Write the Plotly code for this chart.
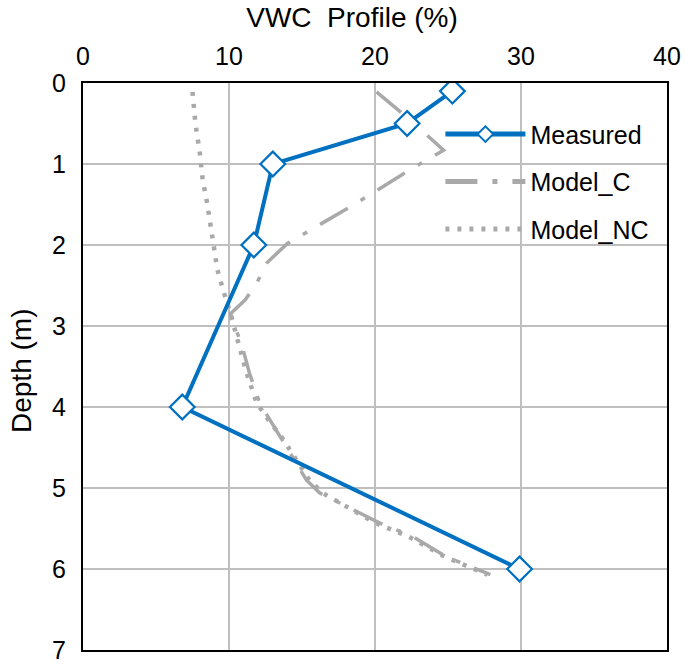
import plotly.graph_objects as go

measured_vwc = [25.3, 22.2, 13.0, 11.7, 6.8, 29.9]
measured_depth = [0.1, 0.5, 1.0, 2.0, 4.0, 6.0]

modelc_vwc = [20.1, 22.5, 24.7, 22.5, 18.3, 14.0, 12.6, 11.9, 11.1, 10.1, 10.9, 11.4,
              12.1, 12.8, 13.5, 14.4, 15.3, 16.2, 18.1, 20.3, 22.6, 24.9, 27.9]
modelc_depth = [0.11, 0.47, 0.83, 1.06, 1.53, 1.98, 2.22, 2.47, 2.68, 2.85, 3.25, 3.58,
                3.95, 4.16, 4.37, 4.65, 4.90, 5.06, 5.23, 5.43, 5.60, 5.85, 6.07]

modelnc_vwc = [7.5, 7.7, 8.0, 8.2, 8.5, 8.9, 9.2, 9.6, 10.1, 10.7, 11.2, 11.9, 12.7,
               13.6, 14.6, 15.5, 16.4, 18.0, 20.0, 22.3, 24.8, 27.7]
modelnc_depth = [0.11, 0.5, 0.86, 1.2, 1.48, 1.96, 2.3, 2.56, 2.84, 3.25, 3.58, 3.95, 4.16,
                 4.37, 4.65, 4.9, 5.06, 5.23, 5.43, 5.6, 5.85, 6.07]

x_ticks = [0, 10, 20, 30, 40]
y_ticks = [0, 1, 2, 3, 4, 5, 6, 7]

FONT = "Liberation Sans, Arial, sans-serif"
FS = 25
TFS = 28
grey = "#A9A9A9"

W, H = 685, 668
L, T, R, B = 83, 83, 18, 18
PW = W - L - R
PH = H - T - B

fig = go.Figure()
fig.add_trace(go.Scatter(
    x=modelc_vwc, y=modelc_depth, mode="lines", name="Model_C", legendgroup="b",
    line=dict(color=grey, width=3.5, dash="32px,15px,5px,15px"),
    legendrank=2))
fig.add_trace(go.Scatter(
    x=modelnc_vwc, y=modelnc_depth, mode="lines", name="Model_NC", legendgroup="c",
    line=dict(color=grey, width=4.5, dash="4px,8px"),
    legendrank=3))
fig.add_trace(go.Scatter(
    x=measured_vwc, y=measured_depth, mode="lines+markers", name="Measured", legendgroup="a",
    line=dict(color="#0070C0", width=4),
    marker=dict(symbol="diamond", size=19, color="white",
                line=dict(color="#0070C0", width=2.2)),
    legendrank=1))

fig.update_layout(
    width=W, height=H,
    margin=dict(l=L, r=R, t=T, b=B, autoexpand=False),
    paper_bgcolor="white", plot_bgcolor="white",
    font=dict(family=FONT, size=FS, color="black"),
    showlegend=True,
    legend=dict(x=0.612, y=0.95, xanchor="left", yanchor="top",
                bgcolor="rgba(0,0,0,0)", font=dict(size=FS),
                tracegroupgap=12, itemwidth=80, itemsizing="constant"),
    title=dict(text="VWC  Profile (%)", x=(352 - L) / PW, xanchor="center", xref="paper",
               y=1 - 17 / H, yanchor="middle", yref="container",
               font=dict(size=TFS, color="black")),
    xaxis=dict(range=[0, 40], side="top", tickvals=x_ticks,
               showgrid=True, gridcolor="#BFBFBF", gridwidth=2,
               showline=True, linecolor="black", linewidth=2, mirror=True,
               zeroline=False, ticks="", automargin=False, ticklabelstandoff=6,
               ticklabeloverflow="allow"),
    yaxis=dict(range=[7, 0], tickvals=y_ticks,
               showgrid=True, gridcolor="#BFBFBF", gridwidth=2,
               showline=True, linecolor="black", linewidth=2, mirror=True,
               zeroline=False, ticks="", automargin=False, ticklabelstandoff=10,
               ticklabeloverflow="allow"),
    annotations=[dict(text="Depth (m)", textangle=-90, xref="paper", yref="paper",
                      x=-(L - 21) / PW, y=1 - (371 - T) / PH,
                      xanchor="center", yanchor="middle", showarrow=False,
                      font=dict(size=TFS, color="black"))],
)

fig.write_html("out.html",
               config={"displayModeBar": False},
               post_script="document.body.style.margin='0';document.body.style.overflow='hidden';")
